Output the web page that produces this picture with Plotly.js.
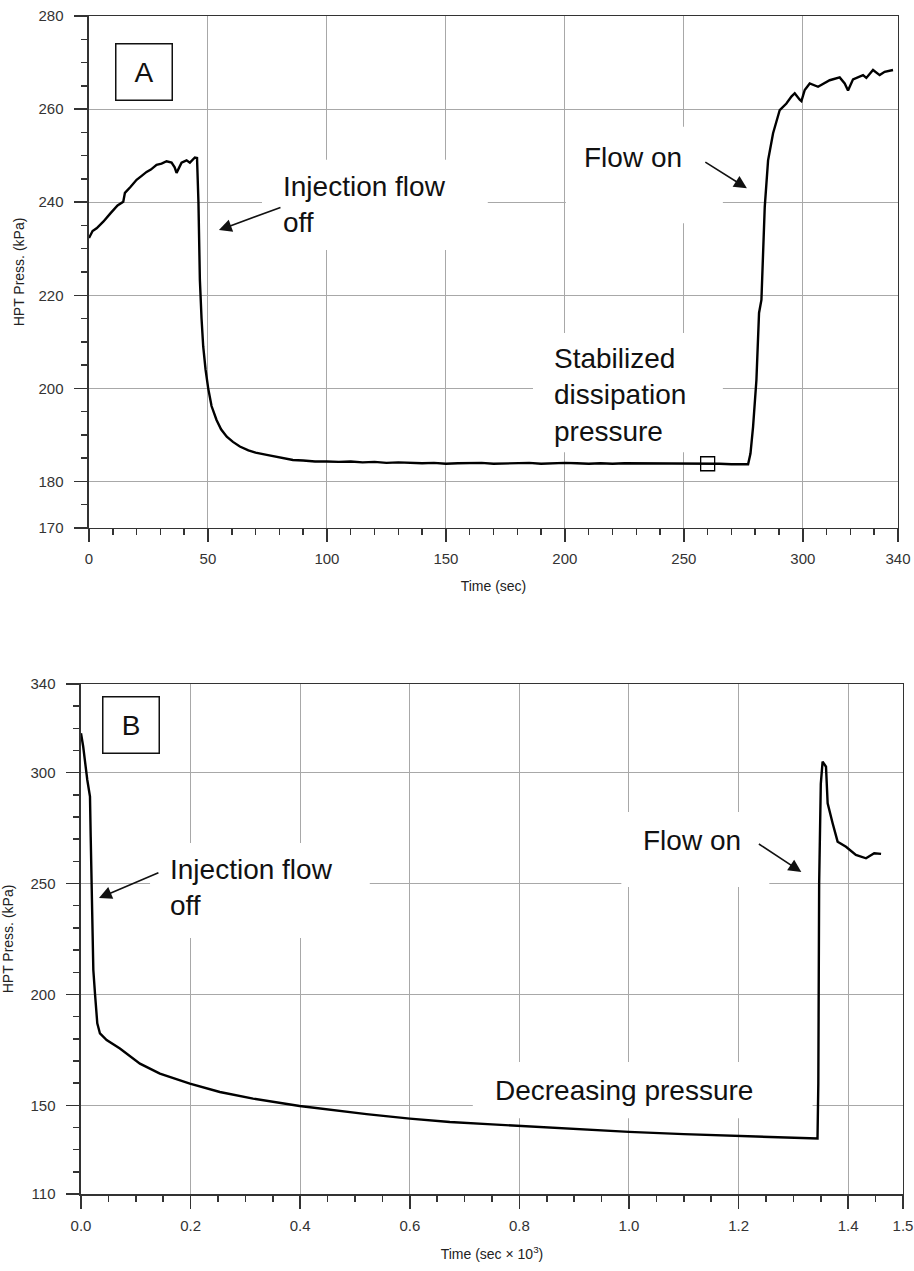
<!DOCTYPE html>
<html>
<head>
<meta charset="utf-8">
<script src="https://cdn.plot.ly/plotly-3.0.1.min.js"></script>
<style>html,body{margin:0;padding:0;background:#fff;} #chart{width:914px;height:1271px;}</style>
</head>
<body>
<div id="chart"></div>
<script>
// ---- Panel A data: time (sec) vs HPT pressure (kPa)
var timeA = [0, 1.5, 3.2, 6, 9, 12, 14.4, 15.1, 17.5, 20, 22, 24.2, 26, 28.4, 30.5, 32.6, 34.7, 36, 36.8, 37.8, 38.9, 41, 42.4, 44.5, 45.4, 46.0, 46.6, 47.3, 48, 49, 50.1, 51.5, 53.6, 55.5, 57.9, 60.5, 63.4, 67, 70, 74.7, 80, 85.7, 90, 95, 100, 105, 110, 115, 120, 125, 130, 135, 140, 145, 150, 155, 160, 165, 170, 175, 180, 185, 190, 195, 200, 205, 210, 215, 220, 225, 230, 235, 240, 245, 250, 255, 260, 265, 270, 275, 277, 278, 279.1, 280.5, 281.6, 282.6, 284, 285.4, 287.5, 290.3, 293.1, 295.2, 296.6, 298.7, 299.4, 300.8, 302.9, 306.4, 311.3, 315.5, 317.6, 319, 321.1, 325.3, 326.7, 329.5, 332.3, 334.4, 337.9];
var pressA = [232.3, 233.8, 234.4, 235.8, 237.6, 239.3, 240.1, 242.0, 243.3, 244.8, 245.6, 246.5, 247.0, 248.0, 248.3, 248.8, 248.5, 247.5, 246.3, 247.2, 248.5, 249.0, 248.5, 249.6, 249.5, 240, 223.3, 215, 209, 204, 200, 196.2, 193.2, 191.2, 189.6, 188.5, 187.5, 186.7, 186.2, 185.7, 185.1, 184.6, 184.5, 184.3, 184.3, 184.2, 184.3, 184.1, 184.2, 184.0, 184.1, 184.0, 183.9, 184.0, 183.8, 183.9, 183.9, 184.0, 183.8, 183.9, 183.9, 184.0, 183.8, 183.9, 184.0, 183.9, 183.8, 183.9, 183.8, 183.9, 183.9, 183.8, 183.8, 183.9, 183.8, 183.9, 183.8, 183.8, 183.7, 183.8, 183.7, 186, 191.8, 201.8, 216.2, 219, 239, 249, 254.8, 259.8, 261.2, 262.7, 263.4, 262.0, 261.7, 264.1, 265.5, 264.8, 266.2, 266.8, 265.5, 264.0, 266.4, 267.3, 266.7, 268.4, 267.3, 268.0, 268.4];
var markerA = {t: [260], p: [183.8]};

// ---- Panel B data: time (sec x 10^3) vs HPT pressure (kPa)
var timeB = [0, 0.004, 0.0115, 0.0164, 0.0177, 0.0195, 0.0225, 0.0255, 0.0297, 0.0346, 0.0468, 0.071, 0.1076, 0.144, 0.1987, 0.2534, 0.314, 0.399, 0.46, 0.521, 0.6, 0.673, 0.75, 0.8, 0.9, 1.0, 1.1, 1.2, 1.3, 1.341, 1.344, 1.3455, 1.347, 1.350, 1.3533, 1.3595, 1.3625, 1.3716, 1.3807, 1.396, 1.414, 1.4325, 1.442, 1.4475, 1.46];
var pressB = [317.8, 311.8, 296.7, 289.2, 271.1, 241.2, 211, 200.5, 187, 182.4, 179.4, 175.6, 168.8, 164.3, 159.8, 156, 153, 149.7, 147.8, 146, 144, 142.5, 141.4, 140.7, 139.3, 138, 137.0, 136.1, 135.3, 135.0, 135.0, 160, 250, 295, 305, 302.7, 286.2, 277.2, 268.9, 266.6, 262.9, 261.4, 263, 263.7, 263.4];

// ---- Tick labels
var xTicksA = [0, 50, 100, 150, 200, 250, 300, 340];
var yTicksA = [170, 180, 200, 220, 240, 260, 280];
var xTicksB = [0, 0.2, 0.4, 0.6, 0.8, 1.0, 1.2, 1.4, 1.5];
var xTickTextB = ['0.0', '0.2', '0.4', '0.6', '0.8', '1.0', '1.2', '1.4', '1.5'];
var yTicksB = [110, 150, 200, 250, 300, 340];

var FONT = 'Liberation Sans, Arial, Helvetica, sans-serif';
var AX = '#333';
var GRID = '#a8a8a8';

function axisBase(extra) {
  var a = {
    showline: true, linecolor: AX, linewidth: 1.5, mirror: true,
    ticks: 'outside', ticklen: 13, tickwidth: 1.5, tickcolor: AX,
    showgrid: true, gridcolor: GRID, gridwidth: 1,
    zeroline: false, tickmode: 'array',
    tickfont: {family: FONT, size: 15, color: '#333'},
    fixedrange: true
  };
  for (var k in extra) a[k] = extra[k];
  return a;
}

var traces = [
  {x: timeA, y: pressA, xaxis: 'x', yaxis: 'y', mode: 'lines',
   line: {color: '#000', width: 2.4}, hoverinfo: 'skip'},
  {x: markerA.t, y: markerA.p, xaxis: 'x', yaxis: 'y', mode: 'markers',
   marker: {symbol: 'square-open', size: 14, color: '#000', line: {width: 1.3, color: '#000'}}},
  {x: timeB, y: pressB, xaxis: 'x2', yaxis: 'y2', mode: 'lines',
   line: {color: '#000', width: 2.4}, hoverinfo: 'skip'}
];

var txtFont = {family: FONT, size: 28, color: '#111'};

function arrow(xr, yr, x, y, ax, ay) {
  return {xref: xr, yref: yr, axref: xr, ayref: yr, x: x, y: y, ax: ax, ay: ay,
    text: '', showarrow: true, arrowhead: 2, arrowsize: 1.6, arrowwidth: 1.6, arrowcolor: '#111'};
}

var annotations = [
  {xref: 'x', yref: 'y', x: 23.3, y: 268, text: 'A', showarrow: false,
   font: {family: FONT, size: 28, color: '#111'}, width: 55, height: 55,
   bordercolor: '#111', borderwidth: 1.5, borderpad: 0, bgcolor: '#fff'},
  {xref: 'x', yref: 'y', x: 80.6, y: 239.4, xanchor: 'left', yanchor: 'middle', align: 'left',
   text: 'Injection flow<br>off', showarrow: false, font: txtFont},
  {xref: 'x', yref: 'y', x: 207.2, y: 249.7, xanchor: 'left', yanchor: 'middle', align: 'left',
   text: 'Flow on', showarrow: false, font: txtFont},
  {xref: 'x', yref: 'y', x: 194.6, y: 198.6, xanchor: 'left', yanchor: 'middle', align: 'left',
   text: 'Stabilized<br>dissipation<br>pressure', showarrow: false, font: txtFont},
  arrow('x', 'y', 54.6, 234.0, 81.1, 239.0),
  arrow('x', 'y', 276.5, 243.0, 258.4, 248.8),

  {xref: 'x2', yref: 'y2', x: 0.0921, y: 321.7, text: 'B', showarrow: false,
   font: {family: FONT, size: 28, color: '#111'}, width: 55, height: 55,
   bordercolor: '#111', borderwidth: 1.5, borderpad: 0, bgcolor: '#fff'},
  {xref: 'x2', yref: 'y2', x: 0.159, y: 248.4, xanchor: 'left', yanchor: 'middle', align: 'left',
   text: 'Injection flow<br>off', showarrow: false, font: txtFont},
  {xref: 'x2', yref: 'y2', x: 0.752, y: 156.9, xanchor: 'left', yanchor: 'middle', align: 'left',
   text: 'Decreasing pressure', showarrow: false, font: txtFont},
  {xref: 'x2', yref: 'y2', x: 1.022, y: 269.6, xanchor: 'left', yanchor: 'middle', align: 'left',
   text: 'Flow on', showarrow: false, font: txtFont},
  arrow('x2', 'y2', 0.0328, 243.5, 0.144, 255.2),
  arrow('x2', 'y2', 1.3145, 255.2, 1.2343, 268.3)
];

// white patches behind the labels that interrupt the grid (drawn under the curves)
function patch(xr, yr, x0, x1, y0, y1) {
  return {type: 'rect', xref: xr, yref: yr, x0: x0, x1: x1, y0: y0, y1: y1,
    fillcolor: '#fff', line: {width: 0}, layer: 'between'};
}
var shapes = [
  patch('x', 'y', 72.7, 167.6, 229.7, 249.1),
  patch('x', 'y', 200.4, 266.4, 235.5, 256.2),
  patch('x', 'y', 186.6, 266.4, 186.3, 211.9),
  patch('x2', 'y2', 0.126, 0.527, 225.4, 268.3),
  patch('x2', 'y2', 0.715, 1.335, 144.2, 169.5),
  patch('x2', 'y2', 0.986, 1.256, 248.4, 282.3)
];

var minorX = {tickmode: 'linear', tick0: 0, dtick: 10, ticklen: 6, tickwidth: 1.5, tickcolor: AX, ticks: 'outside', showgrid: false};
var minorY = {tickmode: 'linear', tick0: 0, dtick: 5, ticklen: 6, tickwidth: 1.5, tickcolor: AX, ticks: 'outside', showgrid: false};
var minorX2 = {tickmode: 'linear', tick0: 0, dtick: 0.05, ticklen: 6, tickwidth: 1.5, tickcolor: AX, ticks: 'outside', showgrid: false};
var minorY2 = {tickmode: 'linear', tick0: 0, dtick: 10, ticklen: 6, tickwidth: 1.5, tickcolor: AX, ticks: 'outside', showgrid: false};

var titleFont = {family: FONT, size: 14, color: '#222'};

var layout = {
  width: 914, height: 1271,
  margin: {l: 0, r: 0, t: 0, b: 0},
  paper_bgcolor: '#fff', plot_bgcolor: '#fff',
  showlegend: false,
  xaxis: axisBase({domain: [0.09737, 0.98249], range: [0, 340], tickvals: xTicksA,
    anchor: 'y', minor: minorX, ticklabelstandoff: 4,
    title: {text: 'Time (sec)', font: titleFont, standoff: 14}}),
  yaxis: axisBase({domain: [0.58458, 0.98741], range: [170, 280], tickvals: yTicksA,
    anchor: 'x', minor: minorY, ticklabelstandoff: 8,
    title: {text: 'HPT Press. (kPa)', font: titleFont, standoff: 10}}),
  xaxis2: axisBase({domain: [0.08862, 0.98796], range: [0, 1.5], tickvals: xTicksB, ticktext: xTickTextB,
    anchor: 'y2', minor: minorX2, ticklabelstandoff: 4,
    title: {text: 'Time (sec \u00d7 10<sup>3</sup>)', font: titleFont, standoff: 16}}),
  yaxis2: axisBase({domain: [0.06058, 0.46184], range: [110, 340], tickvals: yTicksB,
    anchor: 'x2', minor: minorY2, ticklabelstandoff: 8,
    title: {text: 'HPT Press. (kPa)', font: titleFont, standoff: 13}}),
  annotations: annotations,
  shapes: shapes
};

Plotly.newPlot('chart', traces, layout, {staticPlot: true, displayModeBar: false});
</script>
</body>
</html>
